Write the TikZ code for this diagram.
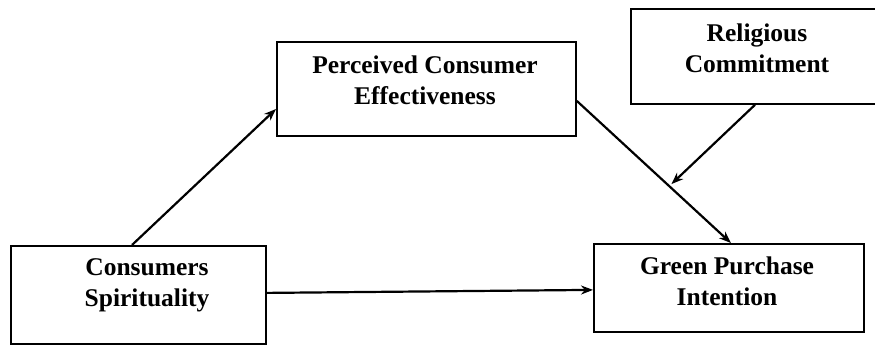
\documentclass[tikz,border=0pt]{standalone}
\usepackage{fontspec}
\setmainfont{Liberation Serif}
\usetikzlibrary{arrows.meta,calc}
\begin{document}
\begin{tikzpicture}[x=1pt,y=-1pt,
  box/.style={draw=black,line width=1.8pt,rectangle,inner sep=0pt,anchor=north west},
  txt/.style={align=center,font=\bfseries\fontsize{25.5}{31}\selectfont,inner sep=0pt},
  conn/.style={line width=2.2pt,-{Stealth[length=12pt,width=9pt]}}]
\clip (0,0) rectangle (875,345);
% boxes
\node[box,minimum width=255pt,minimum height=98pt] (cs) at (10,245) {};
\node[box,minimum width=299pt,minimum height=94pt] (pce) at (276,41) {};
\node[box,minimum width=254pt,minimum height=95pt] (rc) at (630,8) {};
\node[box,minimum width=270pt,minimum height=88pt] (gpi) at (593,243) {};
% texts
\node[txt] (cst) at (147,285) {Consumers\\Spirituality};
\node[txt] (pcet) at (425,80) {Perceived Consumer\\Effectiveness};
\node[txt] (rct) at (757,48) {Religious\\Commitment};
\node[txt] (gpit) at (727,281) {Green Purchase\\Intention};
% connectors
\coordinate (ps) at ([yshift=-12pt]pce.east);
\coordinate (ge) at ([xshift=2pt]gpi.north);
\path (ps) -- (ge) coordinate[pos=0.6] (m);
\draw[conn] ([xshift=122pt]cs.north west) -- ([yshift=-68pt]pce.north west);
\draw[conn] ([yshift=2pt]cs.east) -- ([yshift=-2pt]gpi.west);
\draw[conn] (ps) -- (ge);
\draw[conn,shorten >=3pt] ([xshift=125pt]rc.south west) -- (m);
\end{tikzpicture}
\end{document}
